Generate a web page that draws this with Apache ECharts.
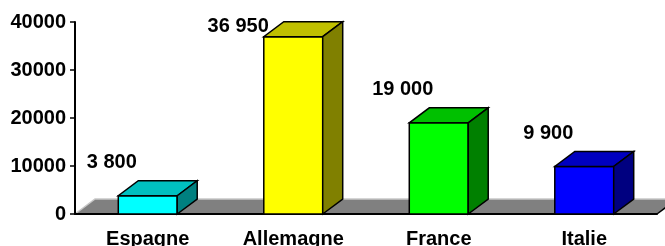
<!DOCTYPE html>
<html>
<head>
<meta charset="utf-8">
<script src="https://cdn.jsdelivr.net/npm/echarts@6/dist/echarts.min.js"></script>
<style>
  html, body { margin: 0; padding: 0; background: #fff; }
  #chart { width: 665px; height: 246px; }
</style>
</head>
<body>
<div id="chart"></div>
<script>
// données
const categories = ['Espagne', 'Allemagne', 'France', 'Italie'];
const values = [3800, 36950, 19000, 9900];
const yTicks = [0, 10000, 20000, 30000, 40000];

// faces : avant, dessus, côté
const faceColors = [
    ['#00FFFF', '#00C0C0', '#008080'],
    ['#FFFF00', '#C0C000', '#808000'],
    ['#00FF00', '#00C000', '#008000'],
    ['#0000FF', '#0000C0', '#000080']
];

const DX = 20, DY = -15;
const FONT = '"Liberation Sans", Arial, sans-serif';

function fmt(v) {
    return String(v).replace(/\B(?=(\d{3})+(?!\d))/g, ' ');
}

function renderFloor(params, api) {
    const cs = params.coordSys;
    const x0 = cs.x, x1 = cs.x + cs.width, y = cs.y + cs.height;
    return {
        type: 'group',
        children: [
            {
                type: 'polygon',
                shape: { points: [[x0, y], [x1, y], [x1 + DX, y + DY], [x0 + DX, y + DY]] },
                style: { fill: '#808080' }
            },
            {
                type: 'polyline',
                shape: { points: [[x0, y], [x0 + DX, y + DY], [x1 + DX + 10, y + DY]] },
                style: { stroke: '#c8c8c8', lineWidth: 1.5, fill: null }
            },
            {
                type: 'line',
                shape: { x1: x1, y1: y, x2: x1 + DX, y2: y + DY },
                style: { stroke: '#000', lineWidth: 1.5 }
            }
        ]
    };
}

function renderBar(params, api) {
    const idx = api.value(0);
    const val = api.value(1);
    const top = api.coord([idx, val]);
    const base = api.coord([idx, 0]);
    const w = api.size([1, 0])[0] * 0.405;
    const l = top[0] - w / 2, r = top[0] + w / 2;
    const t = top[1], b = base[1];
    const c = faceColors[idx];
    const line = { stroke: '#000', lineWidth: 1.5, lineJoin: 'miter' };

    // étiquette au-dessus à gauche ; si elle touche le haut, on la pousse à gauche de la barre
    let lx = top[0] - 36, ly = t - 33, align = 'center';
    if (ly < 26) {
        ly = 26;
        lx = l + 5;
        align = 'right';
    }

    return {
        type: 'group',
        children: [
            {
                type: 'polygon',
                shape: { points: [[l, b], [r, b], [r, t], [l, t]] },
                style: Object.assign({ fill: c[0] }, line)
            },
            {
                type: 'polygon',
                shape: { points: [[l, t], [r, t], [r + DX, t + DY], [l + DX, t + DY]] },
                style: Object.assign({ fill: c[1] }, line)
            },
            {
                type: 'polygon',
                shape: { points: [[r, b], [r + DX, b + DY], [r + DX, t + DY], [r, t]] },
                style: Object.assign({ fill: c[2] }, line)
            },
            {
                type: 'text',
                x: lx,
                y: ly,
                z2: 10,
                style: {
                    text: fmt(val),
                    fill: '#000',
                    font: 'bold 20px ' + FONT,
                    align: align,
                    verticalAlign: 'middle'
                }
            }
        ]
    };
}

const chart = echarts.init(document.getElementById('chart'));
chart.setOption({
    animation: false,
    grid: { left: 75, right: 8, top: 22, bottom: 32, outerBoundsMode: 'none' },
    xAxis: {
        type: 'category',
        data: categories,
        axisLine: { lineStyle: { color: '#000', width: 2 } },
        axisTick: { length: 4, lineStyle: { color: '#000', width: 1.5 } },
        axisLabel: {
            color: '#000', fontWeight: 'bold', fontSize: 20, fontFamily: FONT,
            margin: 15, interval: 0
        },
        z: 5
    },
    yAxis: {
        type: 'value',
        min: yTicks[0],
        max: yTicks[yTicks.length - 1],
        interval: yTicks[1] - yTicks[0],
        axisLine: { show: true, lineStyle: { color: '#000', width: 2 } },
        axisTick: { show: true, length: 5, lineStyle: { color: '#000', width: 1.5 } },
        axisLabel: {
            color: '#000', fontWeight: 'bold', fontSize: 20, fontFamily: FONT, margin: 9,
            formatter: v => String(v)
        },
        splitLine: { show: false },
        z: 5
    },
    series: [
        {
            type: 'custom',
            renderItem: renderFloor,
            data: [[0, 0]],
            silent: true,
            z: 1
        },
        {
            type: 'custom',
            renderItem: renderBar,
            encode: { x: 0, y: 1 },
            data: values.map((v, i) => [i, v]),
            clip: false,
            z: 10
        }
    ]
});
</script>
</body>
</html>
